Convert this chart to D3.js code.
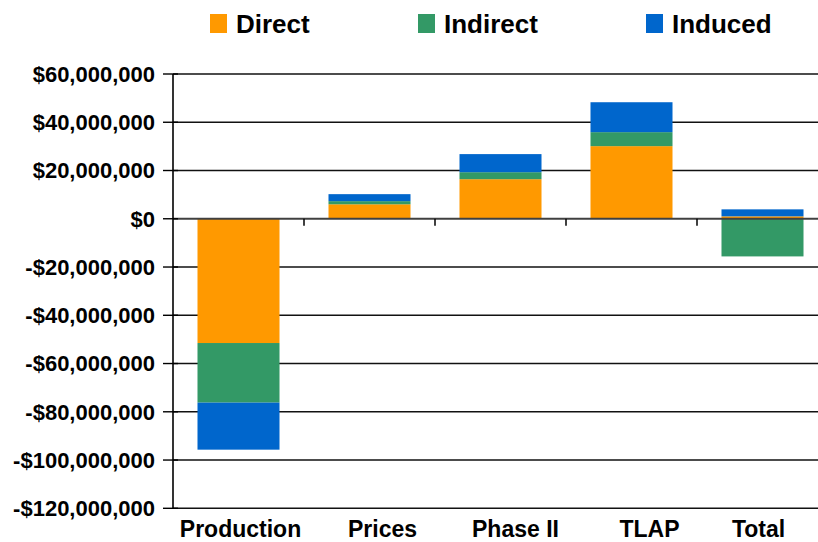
<!DOCTYPE html>
<html>
<head>
<meta charset="utf-8">
<script src="https://cdn.jsdelivr.net/npm/d3@7"></script>
<style>
  body { margin: 0; background: #fff; }
  svg { display: block; font-family: "Liberation Sans", Arial, sans-serif; font-weight: bold; }
</style>
</head>
<body>
<div id="chart"></div>
<script>
var categories = ['Production', 'Prices', 'Phase II', 'TLAP', 'Total'];
var seriesNames = ['Direct', 'Indirect', 'Induced'];
var direct = [-51500000, 6000000, 16400000, 30100000, 1000000];
var indirect = [-24700000, 1300000, 2900000, 5800000, -15600000];
var induced = [-19500000, 2900000, 7500000, 12400000, 2900000];
var yTicks = [60000000, 40000000, 20000000, 0, -20000000, -40000000, -60000000, -80000000, -100000000, -120000000];
var colors = ['#ff9900', '#339966', '#0066cc'];

var width = 818, height = 542;
var margin = {top: 74, left: 173, bottom: 34};
var plotW = 655;
// category labels are not quite centred under their bars in the original
var labelShift = [2, 13, 15, 18, -4];

var svg = d3.select('#chart').append('svg')
    .attr('width', width)
    .attr('height', height);

// build rows for the stack
var rows = categories.map(function(c, i) {
    return {cat: c, Direct: direct[i], Indirect: indirect[i], Induced: induced[i]};
});

var stack = d3.stack()
    .keys(seriesNames)
    .offset(d3.stackOffsetDiverging);
var layers = stack(rows);

var x = d3.scaleBand()
    .domain(categories)
    .range([margin.left, margin.left + plotW])
    .paddingInner(0.374)
    .paddingOuter(0.187);

var y = d3.scaleLinear()
    .domain([-120000000, 60000000])
    .range([508.3, margin.top]);

var fmt = function(v) {
    var s = '$' + d3.format(',')(Math.abs(v));
    return v < 0 ? '-' + s : s;
};

// gridlines
svg.append('g').selectAll('line')
    .data(yTicks.filter(function(d) { return d !== 0; }))
    .join('line')
    .attr('x1', margin.left)
    .attr('x2', width)
    .attr('y1', function(d) { return y(d); })
    .attr('y2', function(d) { return y(d); })
    .attr('stroke', '#111')
    .attr('stroke-width', 1.6);

// bars
svg.append('g').selectAll('g')
    .data(layers)
    .join('g')
    .attr('fill', function(d, i) { return colors[i]; })
    .selectAll('rect')
    .data(function(d) { return d; })
    .join('rect')
    .attr('x', function(d) { return x(d.data.cat); })
    .attr('width', x.bandwidth())
    .attr('y', function(d) { return y(Math.max(d[0], d[1])); })
    .attr('height', function(d) { return Math.abs(y(d[0]) - y(d[1])); });

// zero line
svg.append('line')
    .attr('x1', margin.left)
    .attr('x2', width)
    .attr('y1', y(0))
    .attr('y2', y(0))
    .attr('stroke', '#404040')
    .attr('stroke-width', 2.2);

// category ticks on zero line
var bounds = categories.slice(1).map(function(c) { return x(c) - x.step() * x.paddingInner() / 2; });
svg.append('g').selectAll('line')
    .data(bounds)
    .join('line')
    .attr('x1', function(d) { return d; })
    .attr('x2', function(d) { return d; })
    .attr('y1', y(0))
    .attr('y2', y(0) + 7)
    .attr('stroke', '#000')
    .attr('stroke-width', 1.5);

// y axis
var yAxis = svg.append('g');
yAxis.append('line')
    .attr('x1', margin.left)
    .attr('x2', margin.left)
    .attr('y1', y(60000000))
    .attr('y2', y(-120000000))
    .attr('stroke', '#000')
    .attr('stroke-width', 1.6);

yAxis.selectAll('.tick')
    .data(yTicks)
    .join('line')
    .attr('class', 'tick')
    .attr('x1', margin.left - 10)
    .attr('x2', margin.left + 5)
    .attr('y1', function(d) { return y(d); })
    .attr('y2', function(d) { return y(d); })
    .attr('stroke', '#000')
    .attr('stroke-width', 1.4);

yAxis.selectAll('text')
    .data(yTicks)
    .join('text')
    .attr('x', 155)
    .attr('y', function(d) { return y(d); })
    .attr('dy', '0.36em')
    .attr('text-anchor', 'end')
    .style('font-size', '22px')
    .text(fmt);

// x labels
svg.append('g').selectAll('text')
    .data(categories)
    .join('text')
    .attr('x', function(d, i) { return x(d) + x.bandwidth() / 2 + labelShift[i]; })
    .attr('y', 537)
    .attr('text-anchor', 'middle')
    .style('font-size', '23px')
    .text(function(d) { return d; });

// legend
var legendX = [210, 418, 646];
var legend = svg.append('g').selectAll('g')
    .data(seriesNames)
    .join('g')
    .attr('transform', function(d, i) { return 'translate(' + legendX[i] + ',0)'; });

legend.append('rect')
    .attr('x', 0)
    .attr('y', 14)
    .attr('width', 17)
    .attr('height', 19)
    .attr('fill', function(d, i) { return colors[i]; });

legend.append('text')
    .attr('x', 26)
    .attr('y', 33)
    .style('font-size', '26px')
    .text(function(d) { return d; });
</script>
</body>
</html>
